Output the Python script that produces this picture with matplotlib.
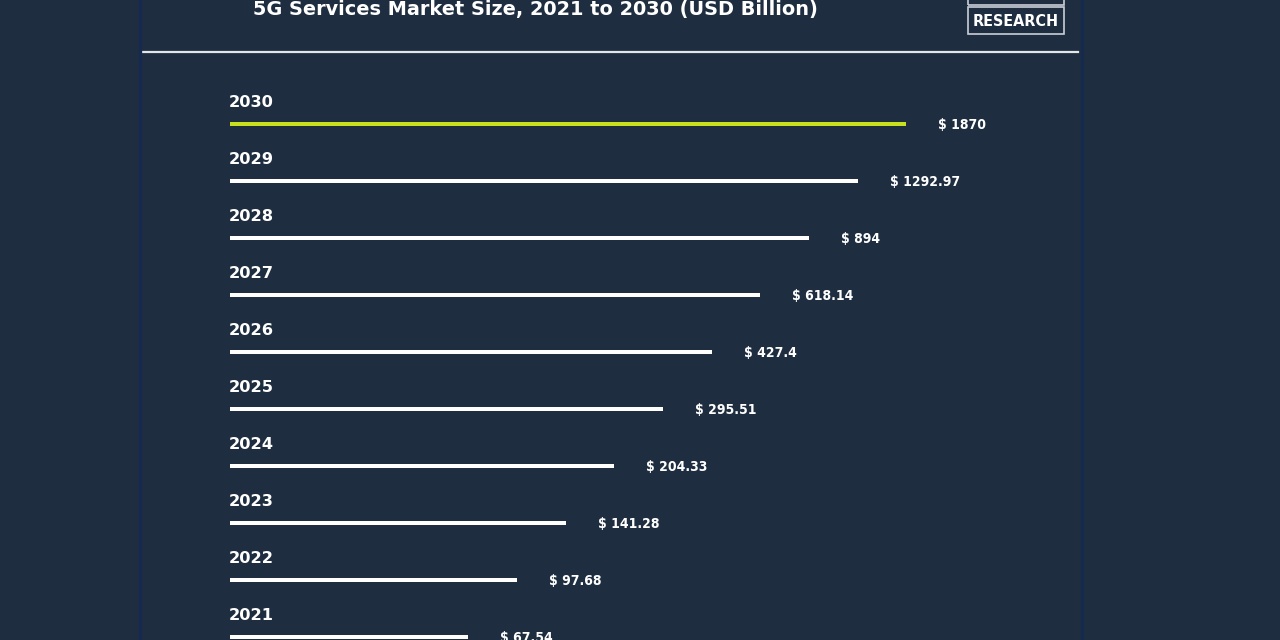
import matplotlib.pyplot as plt
from matplotlib import font_manager
from matplotlib.lines import Line2D
from matplotlib.patches import Rectangle

years = ['2021', '2022', '2023', '2024', '2025', '2026', '2027', '2028', '2029', '2030']
values = ['67.54', '97.68', '141.28', '204.33', '295.51', '427.4', '618.14', '894', '1292.97', '1870']
# bar lengths as drawn in the infographic (not proportional to value)
bar_len = [238, 287, 336, 384, 433, 482, 530, 579, 628, 676]
bar_colors = ['white'] * 9 + ['#c8e01e']

bg = '#1e2d3f'
W, H = 1280, 640

# look for a condensed bold face for the value labels
cond = None
for f in font_manager.fontManager.ttflist:
    n = (f.name + ' ' + f.fname).lower()
    if ('condensed' in n or 'narrow' in n or f.stretch in ('condensed', 'semi-condensed')) \
            and f.weight in ('bold', 700, 'semibold', 600) and 'italic' not in n and 'oblique' not in n:
        cond = f.fname
        break
if cond:
    val_font = font_manager.FontProperties(fname=cond, size=10)
    logo_font = font_manager.FontProperties(fname=cond, size=11.5)
else:
    val_font = font_manager.FontProperties(family='DejaVu Sans', weight='bold', size=9)
    logo_font = font_manager.FontProperties(family='DejaVu Sans', size=10)

fig = plt.figure(figsize=(12.8, 6.4), dpi=100, facecolor=bg)

# bar axes: 1 data unit on x = 1 pixel, starting at x=230
step = 57.0
top_bar, bot_bar = 124, 637
ax = fig.add_axes([230 / W, (H - (bot_bar + step / 2)) / H, 800 / W, (bot_bar - top_bar + step) / H])
ax.set_facecolor('none')
ax.set_xlim(0, 800)
ax.set_ylim(-0.5, 9.5)
ax.axis('off')

pos = list(range(len(years)))
ax.barh(pos, bar_len, height=4 / step, color=bar_colors, left=0)

for i in pos:
    ax.annotate(years[i], (0, i), xytext=(-1, 15.5), textcoords='offset points',
                ha='left', va='center', color='white', fontsize=11.7,
                fontweight='bold', family='DejaVu Sans')
    ax.annotate('$ ' + values[i], (bar_len[i], i), xytext=(23, -0.5), textcoords='offset points',
                ha='left', va='center', color='white', fontproperties=val_font)

# title
fig.text(535 / W, 1 - 9 / H, '5G Services Market Size, 2021 to 2030 (USD Billion)',
         ha='center', va='center', color='white', fontsize=13.9, fontweight='bold',
         family='DejaVu Sans')

# rule under the title
fig.add_artist(Line2D([142 / W, 1078 / W], [1 - 52 / H, 1 - 52 / H],
                      color='#e3e6ea', lw=1.6, transform=fig.transFigure))

# panel edges
for xp in (140, 1082):
    fig.add_artist(Line2D([xp / W, xp / W], [0, 1], color='#162a50', lw=2.4,
                          transform=fig.transFigure))

# logo
fig.add_artist(Rectangle((968 / W, 1 - 34 / H), 96 / W, 27 / H, fill=False,
                         ec='#c9ced6', lw=1.2, transform=fig.transFigure))
fig.add_artist(Rectangle((968 / W, 1 - 5 / H), 96 / W, 27 / H, fill=False,
                         ec='#c9ced6', lw=1.2, transform=fig.transFigure))
fig.text(1016 / W, 1 - 21 / H, 'RESEARCH', ha='center', va='center',
         color='white', fontproperties=logo_font)
fig.text(1016 / W, 1 + 8 / H, 'PRECEDENCE', ha='center', va='center',
         color='white', fontproperties=logo_font)

fig.savefig('out.png', dpi=100, facecolor=bg)
